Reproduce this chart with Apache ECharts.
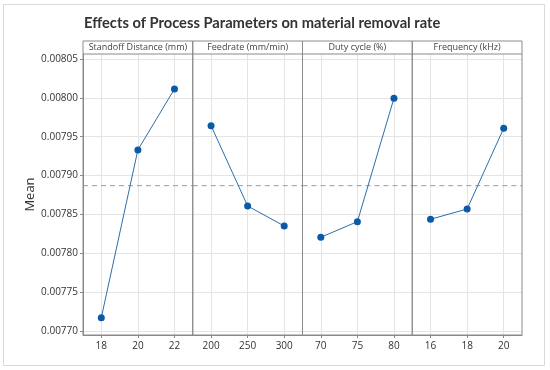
<!DOCTYPE html>
<html><head><meta charset="utf-8">
<script src="https://cdn.jsdelivr.net/npm/echarts@6/dist/echarts.min.js"></script>
<style>html,body{margin:0;padding:0;background:#fff}#c{width:550px;height:370px}</style>
</head><body><div id="c"></div>
<script>
var titleText = 'Effects of Process Parameters on material removal rate';
var panelNames = ['Standoff Distance (mm)', 'Feedrate (mm/min)', 'Duty cycle (%)', 'Frequency (kHz)'];
var levelsStandoff = [18, 20, 22];
var levelsFeed = [200, 250, 300];
var levelsDuty = [70, 75, 80];
var levelsFreq = [16, 18, 20];
var meanStandoff = [0.0077171, 0.0079330, 0.0080114];
var meanFeed = [0.0079642, 0.0078609, 0.0078351];
var meanDuty = [0.0078206, 0.0078407, 0.0079995];
var meanFreq = [0.0078438, 0.0078570, 0.0079609];
var yTicks = [0.00770, 0.00775, 0.00780, 0.00785, 0.00790, 0.00795, 0.00800, 0.00805];
var grandMean = 0.0078870;

var levels = [levelsStandoff, levelsFeed, levelsDuty, levelsFreq];
var means = [meanStandoff, meanFeed, meanDuty, meanFreq];

var FONT = '"Open Sans", "Noto Sans", sans-serif';
var L = 83, PW = 109.75, TOP = 54, BOT = 335, HEAD = 41;
var yMin = 0.0076949, yMax = 0.0080564;

var grids = [], xAxes = [], yAxes = [], series = [], graphics = [];
graphics.push({type:'rect', shape:{x:3.5, y:4.5, width:541, height:361}, style:{fill:'none', stroke:'#d9d9d9', lineWidth:1}, z:0});
for (var i = 0; i < 4; i++) {
  var lv = levels[i];
  var step = lv[1] - lv[0];
  var xmin = lv[0] - step/2, xmax = lv[lv.length-1] + step/2;
  grids.push({left: L + i*PW, width: PW, top: TOP, bottom: 370 - BOT, containLabel:false});
  xAxes.push({
    type:'value', gridIndex:i, min: xmin, max: xmax,
    axisLine:{show:true, lineStyle:{color:'#888'}},
    axisTick:{show:true, length:3, customValues: lv, lineStyle:{color:'#888'}},
    axisLabel:{customValues: lv, color:'#333', fontSize:10, fontFamily:FONT, margin:6},
    splitLine:{show:true, lineStyle:{color:'#e4e4e4'}}
  });
  yAxes.push({
    type:'value', gridIndex:i, min:yMin, max:yMax,
    name: i === 0 ? 'Mean' : '', nameLocation:'middle', nameGap:46,
    nameTextStyle:{fontSize:13, color:'#333', fontFamily:FONT},
    axisLine:{show: i === 0, lineStyle:{color:'#888'}},
    axisTick:{show: i === 0, length:3, customValues: yTicks, lineStyle:{color:'#888'}},
    axisLabel:{show: i === 0, customValues: yTicks, color:'#333', fontSize:10, fontFamily:FONT, margin:5,
      formatter:function(v){return v.toFixed(5);}},
    splitLine:{show:true, lineStyle:{color:'#e4e4e4'}}
  });
  series.push({
    type:'line', xAxisIndex:i, yAxisIndex:i, data:[[xmin, grandMean],[xmax, grandMean]],
    symbol:'none', lineStyle:{color:'#9a9a9a', type:[5,4], width:1}, z:1, animation:false, silent:true
  });
  var data = lv.map(function(x, j){ return [x, means[i][j]]; });
  series.push({
    type:'line', xAxisIndex:i, yAxisIndex:i, data:data,
    symbol:'circle', symbolSize:7, itemStyle:{color:'#0a5aa8'},
    lineStyle:{color:'#2f6fa5', width:1}, animation:false, z:3
  });
  graphics.push({type:'rect', shape:{x:L + i*PW, y:HEAD, width:PW, height:BOT-HEAD}, style:{fill:'none', stroke:'#8a8a8a', lineWidth:1}, z:10});
  graphics.push({type:'line', shape:{x1:L + i*PW, y1:TOP, x2:L+(i+1)*PW, y2:TOP}, style:{stroke:'#8a8a8a', lineWidth:1}, z:10});
  graphics.push({type:'text', x:L + i*PW + PW/2, y:(HEAD+TOP)/2, style:{text:panelNames[i], fill:'#444', fontSize:9, fontFamily:FONT, textAlign:'center', textVerticalAlign:'middle'}, z:10});
}

var chart = echarts.init(document.getElementById('c'), null, {renderer:'canvas'});
chart.setOption({
  animation:false,
  backgroundColor:'#fff',
  title:{text:titleText, left:79, top:11, textStyle:{fontSize:14.7, fontWeight:'bold', color:'#333', fontFamily:'Lato, "Open Sans", sans-serif'}},
  grid:grids, xAxis:xAxes, yAxis:yAxes, series:series, graphic:graphics
});
</script></body></html>
